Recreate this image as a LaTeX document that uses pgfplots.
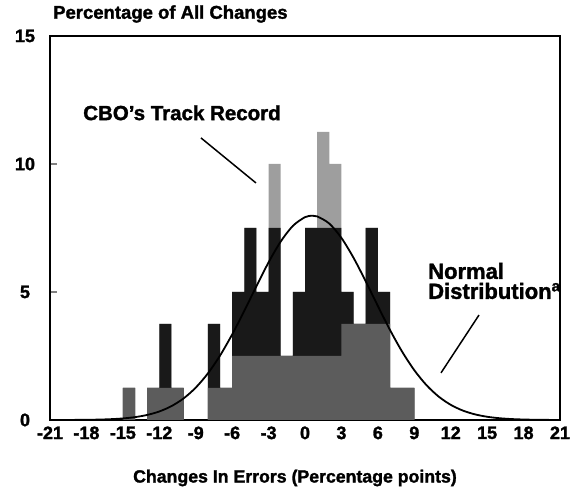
\documentclass[border=0pt]{standalone}
\usepackage{pgfplots}
\usepackage{pgfplotstable}
\pgfplotsset{compat=1.18}
\usepackage{fontspec}
\setmainfont{Liberation Sans}[BoldFeatures={FakeBold=1.6}]

\pgfplotstableread{
x      h      mid    low
-14.5  1.25   1.25   1.25
-12.5  1.25   1.25   1.25
-11.5  3.75   3.75   1.25
-10.5  1.25   1.25   1.25
-7.5   3.75   3.75   1.25
-6.5   1.25   1.25   1.25
-5.5   5      5      2.5
-4.5   7.5    7.5    2.5
-3.5   5      5      2.5
-2.5   10     7.5    2.5
-1.5   2.5    2.5    2.5
-0.5   5      5      2.5
0.5    7.5    7.5    2.5
1.5    11.25  7.5    2.5
2.5    10     7.5    2.5
3.5    5      5      3.75
4.5    3.75   3.75   3.75
5.5    7.5    7.5    3.75
6.5    5      5      3.75
7.5    1.25   1.25   1.25
8.5    1.25   1.25   1.25
}\hist

\begin{document}
\begin{tikzpicture}
\begin{axis}[
  name=ax,
  scale only axis,
  width=510pt, height=384pt,
  xmin=-21, xmax=21, ymin=0, ymax=15,
  xtick={-21,-18,...,21},
  ytick={0,5,10,15},
  axis line style={line width=1.3pt},
  tick align=inside,
  ytick pos=left,
  xtick pos=bottom,
  major tick length=7pt,
  xtick style={draw=none},
  ytick style={line width=1.2pt},
  /pgf/number format/assume math mode=true,
  tick label style={font=\fontsize{18}{18}\selectfont\bfseries},
  yticklabel style={anchor=center, xshift=-25pt},
  xticklabel style={yshift=-3pt},
  clip=true,
]
\addplot[ybar, bar width=1, bar shift=0pt, fill=black!38, draw=none] table[x=x, y=h] {\hist};
\addplot[ybar, bar width=1, bar shift=0pt, fill=black!90, draw=none] table[x=x, y=mid] {\hist};
\addplot[ybar, bar width=1, bar shift=0pt, fill=black!64, draw=none] table[x=x, y=low] {\hist};
\addplot[smooth, line width=1.8pt, black] coordinates {
(-21,0.0007) (-20,0.0016) (-19,0.0037) (-18,0.0079) (-17,0.016) (-16,0.032)
(-15,0.061) (-14,0.112) (-13,0.197) (-12,0.333) (-11,0.541) (-10,0.843)
(-9,1.263) (-8,1.818) (-7,2.514) (-6,3.340) (-5,4.263) (-4,5.227)
(-3,6.158) (-2,6.971) (-1,7.582) (0,7.923) (0.6,7.98) (1,7.954) (2,7.674)
(3,7.112) (4,6.333) (5,5.418) (6,4.454) (7,3.517) (8,2.669) (9,1.946)
(10,1.363) (11,0.918) (12,0.593) (13,0.368) (14,0.220) (15,0.126)
(16,0.070) (17,0.037) (18,0.019) (19,0.009) (20,0.004) (21,0.002)
};
\node[font=\fontsize{20.5}{22}\selectfont\bfseries] at (axis cs:-10.13,12.0) {CBO’s Track Record};
\draw[line width=1.5pt] (axis cs:-8.57,11.02) -- (axis cs:-4.04,9.26);
\node[font=\fontsize{22}{20}\selectfont\bfseries, align=left, anchor=west, inner sep=0pt] at (axis cs:10.13,5.43) {Normal\\Distribution\textsuperscript{a}};
\draw[line width=1.5pt] (axis cs:14.33,4.10) -- (axis cs:11.2,1.84);
\end{axis}
\node[font=\fontsize{18.5}{20}\selectfont\bfseries, anchor=west, inner sep=0pt] at ([xshift=3pt,yshift=22pt]ax.north west) {Percentage of All Changes};
\node[font=\fontsize{17.7}{20}\selectfont\bfseries, inner sep=0pt] at ([xshift=-10pt,yshift=-58pt]ax.south) {Changes In Errors (Percentage points)};
\pgfresetboundingbox
\path ([xshift=-50pt,yshift=-74pt]ax.south west) rectangle ([xshift=18pt,yshift=36pt]ax.north east);
\end{tikzpicture}
\end{document}
